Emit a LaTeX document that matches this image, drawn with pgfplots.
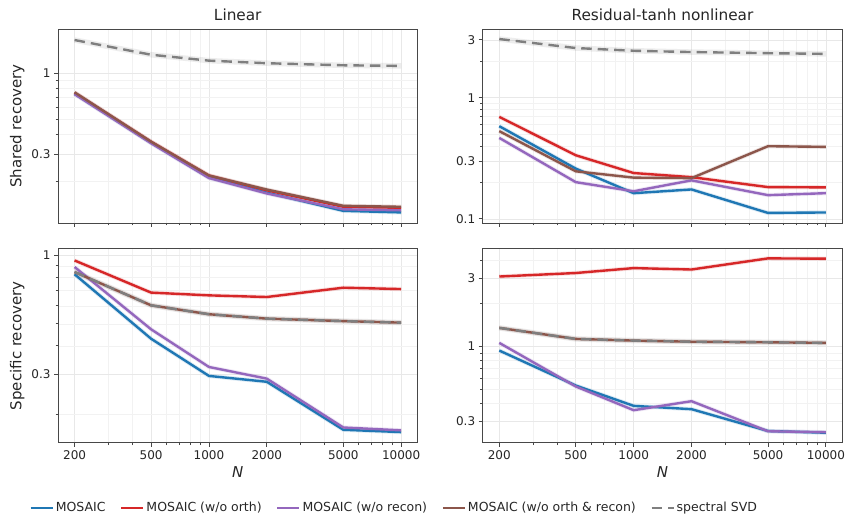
\documentclass[border=0pt]{standalone}
\usepackage{fontspec}
\setmainfont{DejaVu Sans}
\usepackage{pgfplots}
\usepackage{pgfplotstable}
\pgfplotsset{compat=1.18}

\definecolor{c1}{HTML}{1F77B4}
\definecolor{c2}{HTML}{D62728}
\definecolor{c3}{HTML}{9467BD}
\definecolor{c4}{HTML}{8C564B}
\definecolor{c5}{HTML}{7F7F7F}

\pgfplotstableread{
N mosaic noorth norecon noboth svd
200 0.735 0.745 0.73 0.75 1.63
500 0.355 0.36 0.352 0.36 1.31
1000 0.212 0.218 0.210 0.218 1.20
2000 0.169 0.175 0.167 0.177 1.155
5000 0.129 0.137 0.132 0.139 1.12
10000 0.126 0.135 0.130 0.137 1.11
}\tlin
\pgfplotstableread{
N mosaic noorth norecon noboth svd
200 0.582 0.695 0.466 0.53 3.05
500 0.26 0.335 0.201 0.247 2.57
1000 0.163 0.239 0.169 0.219 2.44
2000 0.175 0.221 0.208 0.217 2.38
5000 0.112 0.183 0.157 0.398 2.33
10000 0.113 0.182 0.163 0.393 2.30
}\tnon
\pgfplotstableread{
N mosaic noorth norecon noboth svd
200 0.826 0.95 0.889 0.845 0.845
500 0.430 0.686 0.473 0.603 0.603
1000 0.295 0.667 0.323 0.551 0.551
2000 0.278 0.656 0.287 0.527 0.527
5000 0.171 0.721 0.175 0.514 0.514
10000 0.167 0.711 0.170 0.506 0.506
}\blin
\pgfplotstableread{
N mosaic noorth norecon noboth svd
200 0.937 3.09 1.06 1.35 1.35
500 0.533 3.27 0.525 1.13 1.13
1000 0.384 3.54 0.358 1.10 1.10
2000 0.364 3.46 0.414 1.08 1.08
5000 0.256 4.14 0.255 1.07 1.07
10000 0.249 4.12 0.251 1.06 1.06
}\bnon

\pgfplotsset{
  myax/.style={
    scale only axis, width=359.5pt, height=194pt,
    xmin=164, xmax=12160,
    xtick={200,500,1000,2000,5000,10000},
    xticklabels={200,500,1000,2000,5000,10000},
    minor xtick={300,400,600,700,800,900,3000,4000,6000,7000,8000,9000},
    minor ytick={0.2,0.4,0.5,0.6,0.7,0.8,0.9,2,4,5},
    grid=both,
    major grid style={black!9, line width=0.7pt},
    minor grid style={black!5, line width=0.5pt},
    axis line style={black!72, line width=0.9pt},
    tick style={black!72, line width=0.8pt},
    major tick length=4pt, minor tick length=2.5pt,
    tick align=outside, xtick pos=bottom, ytick pos=left,
    tick label style={font=\fontsize{12}{14}\selectfont, text=black!85},
    label style={font=\fontsize{15}{17}\selectfont, text=black!85},
    title style={font=\fontsize{15.3}{17}\selectfont, text=black!85, yshift=-1pt},
  },
  s1/.style={c1, line width=2.4pt, line join=round},
  s2/.style={c2, line width=2.4pt, line join=round},
  s3/.style={c3, line width=2.4pt, line join=round},
  s4/.style={c4, line width=2.4pt, line join=round},
  s5/.style={c5, line width=2.4pt, line join=round, dash pattern=on 10.5pt off 6pt},
}

\newcommand{\allplots}[1]{%
  \addplot[c1, opacity=0.15, line width=4.2pt, line join=round, forget plot] table[x=N,y=mosaic]{#1};
  \addplot[c2, opacity=0.15, line width=4.2pt, line join=round, forget plot] table[x=N,y=noorth]{#1};
  \addplot[c3, opacity=0.15, line width=4.2pt, line join=round, forget plot] table[x=N,y=norecon]{#1};
  \addplot[c4, opacity=0.15, line width=4.2pt, line join=round, forget plot] table[x=N,y=noboth]{#1};
  \addplot[c5, opacity=0.14, line width=5.5pt, line join=round, forget plot] table[x=N,y=svd]{#1};
  \addplot[s1] table[x=N,y=mosaic]{#1};
  \addplot[s2] table[x=N,y=noorth]{#1};
  \addplot[s3] table[x=N,y=norecon]{#1};
  \addplot[s4] table[x=N,y=noboth]{#1};
  \addplot[s5] table[x=N,y=svd]{#1};
}

\begin{document}
\begin{tikzpicture}
\path[use as bounding box] (0pt,0pt) rectangle (852pt,522pt);

% top-left
\begin{loglogaxis}[myax, at={(58pt,299pt)}, anchor=south west,
  ymin=0.1077, ymax=1.92, ytick={0.3,1}, yticklabels={0.3,1},
  xticklabels={}, title={Linear}, ylabel={Shared recovery}]
\allplots{\tlin}
\end{loglogaxis}

% top-right
\begin{loglogaxis}[myax, at={(482.7pt,299pt)}, anchor=south west,
  ymin=0.0925, ymax=3.69, ytick={0.1,0.3,1,3}, yticklabels={0.1,0.3,1,3},
  xticklabels={}, title={Residual-tanh nonlinear}]
\allplots{\tnon}
\end{loglogaxis}

% bottom-left
\begin{loglogaxis}[myax, at={(58pt,79.3pt)}, anchor=south west,
  ymin=0.150, ymax=1.07, ytick={0.3,1}, yticklabels={0.3,1},
  xlabel={\textit{N}}, ylabel={Specific recovery},
  legend columns=5,
  legend image code/.code={\draw[#1] (0pt,0pt) -- (22pt,0pt);},
  legend style={draw=none, fill=none, at={(-0.08,-0.336)}, anchor=west,
    font=\fontsize{12.5}{14}\selectfont, text=black!85,
    inner xsep=0pt,
    /tikz/every even column/.append style={column sep=12.5pt}},
  ]
\allplots{\blin}
\legend{MOSAIC, MOSAIC (w/o orth), MOSAIC (w/o recon), MOSAIC (w/o orth \& recon), spectral SVD}
\end{loglogaxis}

% bottom-right
\begin{loglogaxis}[myax, at={(482.7pt,79.3pt)}, anchor=south west,
  ymin=0.212, ymax=4.84, ytick={0.3,1,3}, yticklabels={0.3,1,3},
  xlabel={\textit{N}}]
\allplots{\bnon}
\end{loglogaxis}
\end{tikzpicture}
\end{document}
